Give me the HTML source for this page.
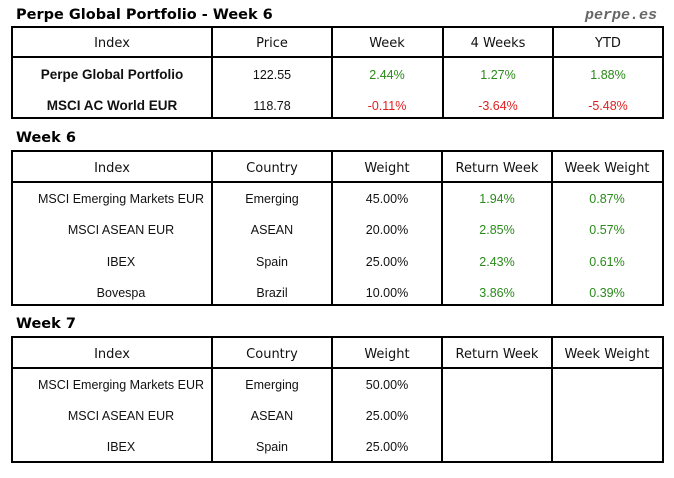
<!DOCTYPE html>
<html><head><meta charset="utf-8"><style>
body{margin:0;background:#fff;width:674px;height:473px;overflow:hidden}
svg text{font-family:"DejaVu Sans","Liberation Sans",sans-serif}
svg g.d text{font-family:"Liberation Sans",sans-serif}
</style></head><body>
<svg width="674" height="473" xmlns="http://www.w3.org/2000/svg">
<g font-size="14.5" font-weight="bold" fill="#000">
<text x="16" y="19">Perpe Global Portfolio - Week 6</text>
<text x="16" y="142">Week 6</text>
<text x="16" y="328">Week 7</text>
</g>
<text x="657" y="19" text-anchor="end" font-size="15" font-weight="bold" font-style="italic" fill="#666" style="font-family:'Liberation Mono',monospace">perpe.es</text>
<g stroke="#000" stroke-width="2" fill="none">
<rect x="12" y="27" width="651" height="91"/>
<line x1="12" y1="57" x2="663" y2="57"/>
<line x1="212" y1="27" x2="212" y2="118"/><line x1="332" y1="27" x2="332" y2="118"/><line x1="443" y1="27" x2="443" y2="118"/><line x1="553" y1="27" x2="553" y2="118"/>
<rect x="12" y="151" width="651" height="154"/>
<line x1="12" y1="182" x2="663" y2="182"/>
<line x1="212" y1="151" x2="212" y2="305"/><line x1="332" y1="151" x2="332" y2="305"/><line x1="442" y1="151" x2="442" y2="305"/><line x1="552" y1="151" x2="552" y2="305"/>
<rect x="12" y="337" width="651" height="125"/>
<line x1="12" y1="368" x2="663" y2="368"/>
<line x1="212" y1="337" x2="212" y2="462"/><line x1="332" y1="337" x2="332" y2="462"/><line x1="442" y1="337" x2="442" y2="462"/><line x1="552" y1="337" x2="552" y2="462"/>
</g>
<g font-size="13" text-anchor="middle" fill="#111">
<text x="112" y="47">Index</text><text x="272" y="47">Price</text><text x="387" y="47">Week</text><text x="498" y="47">4 Weeks</text><text x="608" y="47">YTD</text>
<text x="112" y="172">Index</text><text x="272" y="172">Country</text><text x="387" y="172">Weight</text><text x="497" y="172">Return Week</text><text x="607" y="172">Week Weight</text>
<text x="112" y="358">Index</text><text x="272" y="358">Country</text><text x="387" y="358">Weight</text><text x="497" y="358">Return Week</text><text x="607" y="358">Week Weight</text>
</g>
<g class="d" font-size="12.5" text-anchor="middle" fill="#111">
<text x="112" y="79" font-weight="bold" font-size="13.5">Perpe Global Portfolio</text><text x="272" y="79">122.55</text>
<text x="112" y="110" font-weight="bold" font-size="13.5">MSCI AC World EUR</text><text x="272" y="110">118.78</text>
<g fill="#2a8a1a"><text x="387" y="79">2.44%</text><text x="498" y="79">1.27%</text><text x="608" y="79">1.88%</text></g>
<g fill="#e02020"><text x="387" y="110">-0.11%</text><text x="498" y="110">-3.64%</text><text x="608" y="110">-5.48%</text></g>

<text x="121" y="203">MSCI Emerging Markets EUR</text><text x="272" y="203">Emerging</text><text x="387" y="203">45.00%</text>
<text x="121" y="234">MSCI ASEAN EUR</text><text x="272" y="234">ASEAN</text><text x="387" y="234">20.00%</text>
<text x="121" y="266">IBEX</text><text x="272" y="266">Spain</text><text x="387" y="266">25.00%</text>
<text x="121" y="297">Bovespa</text><text x="272" y="297">Brazil</text><text x="387" y="297">10.00%</text>
<g fill="#2a8a1a">
<text x="497" y="203">1.94%</text><text x="607" y="203">0.87%</text>
<text x="497" y="234">2.85%</text><text x="607" y="234">0.57%</text>
<text x="497" y="266">2.43%</text><text x="607" y="266">0.61%</text>
<text x="497" y="297">3.86%</text><text x="607" y="297">0.39%</text>
</g>
<text x="121" y="389">MSCI Emerging Markets EUR</text><text x="272" y="389">Emerging</text><text x="387" y="389">50.00%</text>
<text x="121" y="420">MSCI ASEAN EUR</text><text x="272" y="420">ASEAN</text><text x="387" y="420">25.00%</text>
<text x="121" y="451">IBEX</text><text x="272" y="451">Spain</text><text x="387" y="451">25.00%</text>
</g>
</svg>
</body></html>
